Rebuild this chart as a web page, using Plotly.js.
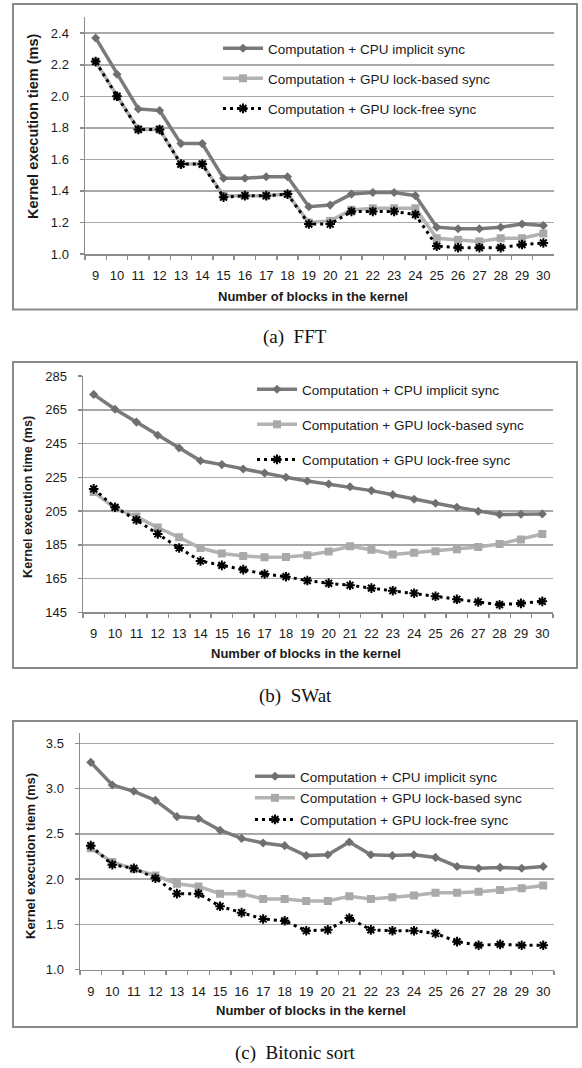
<!DOCTYPE html>
<html>
<head>
<meta charset="utf-8">
<script src="https://cdn.plot.ly/plotly-3.0.1.min.js"></script>
<style>
html,body{margin:0;padding:0;background:#fff;}
#chart{width:582px;height:1068px;}
</style>
</head>
<body>
<div id="chart"></div>
<script>
// ---------- DATA ----------
const blocks = ['9','10','11','12','13','14','15','16','17','18','19','20','21','22','23','24','25','26','27','28','29','30'];
const seriesNames = ['Computation + CPU implicit sync','Computation + GPU lock-based sync','Computation + GPU lock-free sync'];

// (a) FFT
const fftCpu      = [2.37,2.14,1.92,1.91,1.70,1.70,1.48,1.48,1.49,1.49,1.30,1.31,1.38,1.39,1.39,1.37,1.17,1.16,1.16,1.17,1.19,1.18];
const fftLockBase = [2.22,2.00,1.79,1.79,1.57,1.57,1.37,1.37,1.37,1.38,1.20,1.21,1.28,1.29,1.29,1.29,1.10,1.09,1.08,1.10,1.10,1.13];
const fftLockFree = [2.22,2.00,1.79,1.79,1.57,1.57,1.36,1.37,1.37,1.38,1.19,1.19,1.27,1.27,1.27,1.25,1.05,1.04,1.04,1.04,1.06,1.07];

// (b) SWat
const swCpu      = [274.1,265.3,257.7,249.9,242.3,234.8,232.5,229.9,227.5,225.0,222.8,221.0,219.4,217.1,214.7,212.0,209.6,207.2,204.8,202.9,203.1,203.3];
const swLockBase = [216.3,206.6,201.7,195.2,189.4,183.1,179.8,178.4,177.6,177.8,178.8,181.0,184.1,182.1,179.2,180.3,181.1,182.3,183.7,185.5,188.2,191.4];
const swLockFree = [218.1,207.2,199.7,191.4,183.1,175.4,172.8,170.3,167.7,166.1,163.8,162.2,161.0,159.3,157.8,156.3,154.5,152.7,151.1,149.5,150.3,151.5];

// (c) Bitonic sort
const btCpu      = [3.29,3.04,2.97,2.87,2.69,2.67,2.54,2.45,2.40,2.37,2.26,2.27,2.41,2.27,2.26,2.27,2.24,2.14,2.12,2.13,2.12,2.14];
const btLockBase = [2.34,2.19,2.11,2.04,1.95,1.92,1.84,1.84,1.78,1.78,1.76,1.76,1.81,1.78,1.80,1.82,1.85,1.85,1.86,1.88,1.90,1.93];
const btLockFree = [2.37,2.16,2.12,2.01,1.84,1.84,1.70,1.63,1.56,1.54,1.43,1.44,1.57,1.44,1.43,1.43,1.40,1.31,1.27,1.28,1.27,1.27];

const yTitles = ['Kernel execution tiem (ms)','Kernel execution time (ms)','Kernel execution tiem (ms)'];
const xTitle = 'Number of blocks in the kernel';
const captions = ['(a)&nbsp;&nbsp;FFT','(b)&nbsp;&nbsp;SWat','(c)&nbsp;&nbsp;Bitonic sort'];

// ---------- STYLE ----------
const W = 582, H = 1068;
const px = v => v / W;
const py = v => 1 - v / H;
const FONT = 'Liberation Sans, Arial, sans-serif';
const styles = [
  {line:{color:'#7a7a7a', width:3.5}, marker:{symbol:'diamond', size:7, color:'#6f6f6f'}},
  {line:{color:'#b3b3b3', width:3.5}, marker:{symbol:'square', size:8, color:'#a9a9a9'}},
  {line:{color:'#000000', width:3, dash:'3px,4px'}, marker:{symbol:'asterisk-open', size:8, color:'#000', line:{color:'#000', width:2}}}
];

const panels = [
  {data:[fftCpu,fftLockBase,fftLockFree], x:[85,554], y:[17,254], range:[1.0,2.503], dtick:0.2, fmt:'.1f',
   frame:[13,4,577,309.5], leg:{x:218, y:33, gap:9.5}, xt:{x:313,y:297}, yt:{x:33,y:126,size:14.5}, cap:{y:337}},
  {data:[swCpu,swLockBase,swLockFree], x:[83,553], y:[376,612.3], range:[145,285], dtick:20, fmt:'d',
   frame:[13,362,577,668], leg:{x:252, y:374, gap:14.5}, xt:{x:306,y:653}, yt:{x:28,y:497,size:12.7}, cap:{y:696}},
  {data:[btCpu,btLockBase,btLockFree], x:[80,554], y:[733,969.7], range:[1.0,3.614], dtick:0.5, fmt:'.1f',
   frame:[13,721,577,1027], leg:{x:250, y:761, gap:1}, xt:{x:311,y:1010}, yt:{x:30,y:856,size:13}, cap:{y:1052.5}}
];

const traces = [];
const layout = {
  width: W, height: H,
  margin:{l:0,r:0,t:0,b:0},
  paper_bgcolor:'#fff', plot_bgcolor:'rgba(0,0,0,0)',
  font:{family:FONT, color:'#1a1a1a', size:13},
  showlegend:true,
  shapes:[], annotations:[]
};

panels.forEach((p, i) => {
  const n = i === 0 ? '' : String(i + 1);
  const legId = 'legend' + n;
  p.data.forEach((vals, k) => {
    traces.push({
      type:'scatter', mode:'lines+markers',
      x: blocks, y: vals, name: seriesNames[k],
      xaxis:'x' + n, yaxis:'y' + n,
      legend: legId, legendgroup: 'g' + i + k,
      line: styles[k].line, marker: styles[k].marker,
      hoverinfo:'skip'
    });
  });
  layout['xaxis' + n] = {
    domain:[px(p.x[0]), px(p.x[1])], anchor:'y' + n, type:'category',
    range:[-0.5, blocks.length - 0.5],
    showgrid:false, zeroline:false, showline:true, linecolor:'#8c8c8c', linewidth:1.5,
    ticks:'outside', tickson:'boundaries', ticklen:4, tickcolor:'#8c8c8c', tickwidth:1.5,
    tickangle:0, tickfont:{size:13, family:FONT, color:'#1a1a1a'}, ticklabelstandoff:9, fixedrange:true
  };
  layout['yaxis' + n] = {
    domain:[py(p.y[1]), py(p.y[0])], anchor:'x' + n,
    range:p.range, dtick:p.dtick, tick0:p.range[0], tickformat:p.fmt,
    showgrid:true, gridcolor:'#a8a8a8', gridwidth:1.5, zeroline:false,
    showline:true, linecolor:'#8c8c8c', linewidth:1.5,
    ticks:'outside', ticklen:4, tickcolor:'#8c8c8c', tickwidth:1.5,
    tickfont:{size:13, family:FONT, color:'#1a1a1a'}, ticklabelstandoff:8, fixedrange:true
  };
  layout[legId] = {
    x:px(p.leg.x), y:py(p.leg.y), xanchor:'left', yanchor:'top',
    bgcolor:'rgba(0,0,0,0)', borderwidth:0, itemwidth:40,
    tracegroupgap:p.leg.gap, font:{size:13.5, family:FONT, color:'#1a1a1a'},
    itemclick:false, itemdoubleclick:false
  };
  const f = p.frame;
  layout.shapes.push({type:'rect', xref:'paper', yref:'paper',
    x0:px(f[0]), x1:px(f[2]), y0:py(f[3]), y1:py(f[1]),
    line:{color:'#8a8a8a', width:2}, fillcolor:'rgba(0,0,0,0)'});
  layout.annotations.push({xref:'paper', yref:'paper', x:px(p.xt.x), y:py(p.xt.y),
    xanchor:'center', yanchor:'middle', showarrow:false, text:'<b>' + xTitle + '</b>',
    font:{size:13, family:FONT, color:'#1a1a1a'}});
  layout.annotations.push({xref:'paper', yref:'paper', x:px(p.yt.x), y:py(p.yt.y),
    xanchor:'center', yanchor:'middle', showarrow:false, textangle:-90,
    text:'<b>' + yTitles[i] + '</b>', font:{size:p.yt.size, family:FONT, color:'#1a1a1a'}});
  layout.annotations.push({xref:'paper', yref:'paper', x:px(295), y:py(p.cap.y),
    xanchor:'center', yanchor:'middle', showarrow:false, text:captions[i],
    font:{size:19, family:'Liberation Serif, Times New Roman, serif', color:'#111'}});
});

Plotly.newPlot('chart', traces, layout, {staticPlot:true, displayModeBar:false});
</script>
</body>
</html>
